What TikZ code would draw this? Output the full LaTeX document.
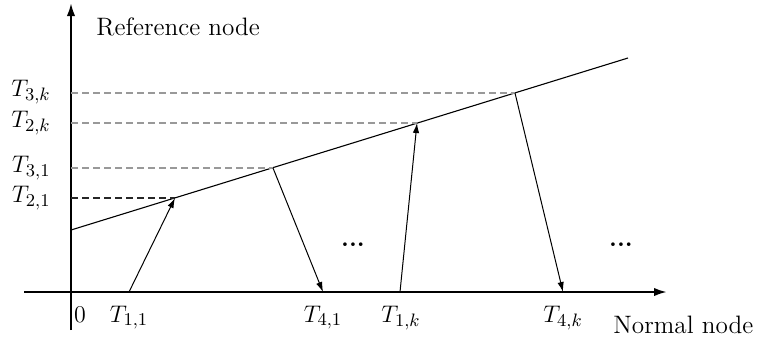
\documentclass[tikz,border=0pt]{standalone}
\usetikzlibrary{arrows.meta}
\begin{document}
\begin{tikzpicture}[x=0.5pt,y=-0.5pt,
  axis/.style={line width=1.1pt,-{Latex[length=6.5pt,width=4.2pt]}},
  conn/.style={line width=0.5pt,-{Latex[length=5pt,width=3.2pt]}},
  guide/.style={line width=0.55pt,dash pattern=on 3.5pt off 2pt,gray!80},
  guidedark/.style={line width=0.55pt,dash pattern=on 3.5pt off 2pt,black!85},
  lab/.style={font=\fontsize{12.6}{15}\selectfont,inner sep=0pt}]
\useasboundingbox (0,0) rectangle (760,339);
% axes
\coordinate (yb) at (71,330);
\coordinate (yt) at (71,3);
\coordinate (xl) at (24,292);
\coordinate (xr) at (667,292);
\draw[axis] (yb) -- (yt);
\draw[axis] (xl) -- (xr);
% reference line
\coordinate (r0) at (71,230);
\coordinate (r1) at (628,58);
\draw[line width=0.55pt] (r0) -- (r1);
% points on line
\coordinate (p21) at (175,198);
\coordinate (p31) at (273,168);
\coordinate (p2k) at (417,123);
\coordinate (p3k) at (515,93);
\coordinate (a21) at (71,198);
\coordinate (a31) at (71,168);
\coordinate (a2k) at (71,123);
\coordinate (a3k) at (71,93);
\draw[guidedark] (a21) -- (p21);
\draw[guide] (a31) -- (p31);
\draw[guide] (a2k) -- (p2k);
\draw[guide] (a3k) -- (p3k);
% points on x axis
\coordinate (q11) at (129,292);
\coordinate (q41) at (323,292);
\coordinate (q1k) at (400,292);
\coordinate (q4k) at (563,292);
\draw[conn] (q11) -- (p21);
\draw[conn] (p31) -- (q41);
\draw[conn] (q1k) -- (p2k);
\draw[conn] (p3k) -- (q4k);
% labels
\node[lab,anchor=base west] (refl) at (96,35) {Reference node};
\node[lab,anchor=base west] (norml) at (613,333) {Normal node};
\node[lab,anchor=base] (zero) at (80,322) {$0$};
\node[lab,anchor=base] (t11) at (129,322) {$T_{1,1}$};
\node[lab,anchor=base] (t41) at (323,322) {$T_{4,1}$};
\node[lab,anchor=base] (t1k) at (401,322) {$T_{1,k}$};
\node[lab,anchor=base] (t4k) at (563,322) {$T_{4,k}$};
\node[lab,anchor=east] (t3k) at (51,92) {$T_{3,k}$};
\node[lab,anchor=east] (t2k) at (51,123) {$T_{2,k}$};
\node[lab,anchor=east] (t31) at (51,168) {$T_{3,1}$};
\node[lab,anchor=east] (t21) at (51,198) {$T_{2,1}$};
\node[lab,anchor=base] (dots1) at (353,246) {\textbf{...}};
\node[lab,anchor=base] (dots2) at (621,246) {\textbf{...}};
\end{tikzpicture}
\end{document}
